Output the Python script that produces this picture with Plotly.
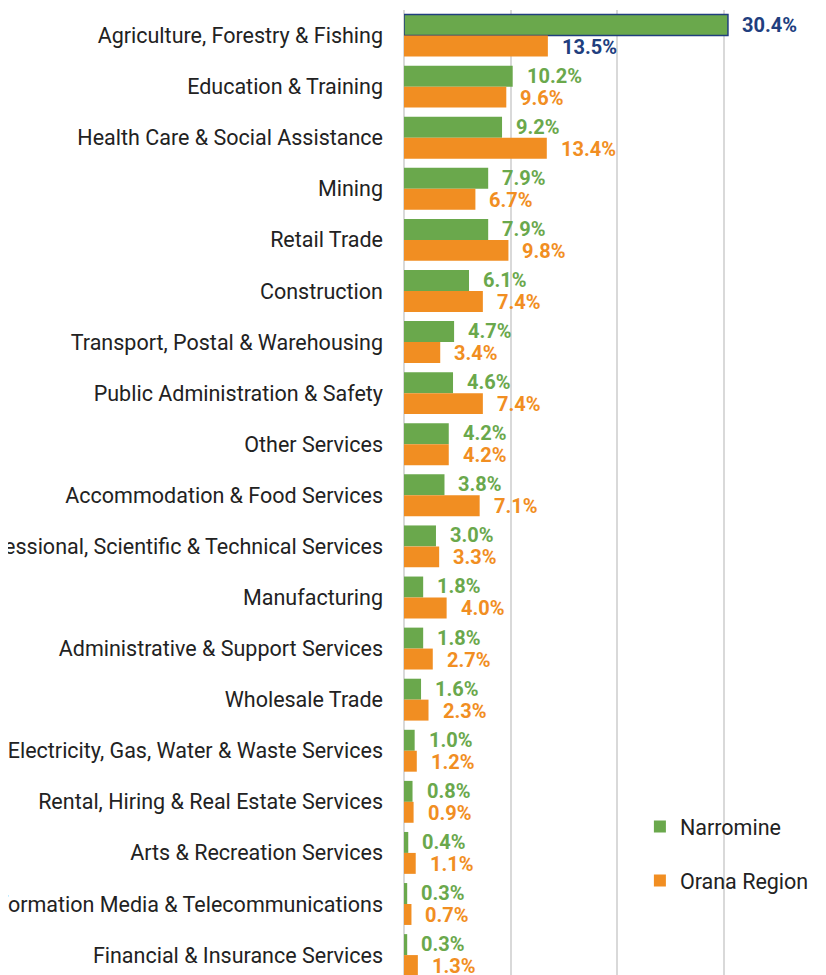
import plotly.graph_objects as go

categories = [
    "Agriculture, Forestry & Fishing",
    "Education & Training",
    "Health Care & Social Assistance",
    "Mining",
    "Retail Trade",
    "Construction",
    "Transport, Postal & Warehousing",
    "Public Administration & Safety",
    "Other Services",
    "Accommodation & Food Services",
    "Professional, Scientific & Technical Services",
    "Manufacturing",
    "Administrative & Support Services",
    "Wholesale Trade",
    "Electricity, Gas, Water & Waste Services",
    "Rental, Hiring & Real Estate Services",
    "Arts & Recreation Services",
    "Information Media & Telecommunications",
    "Financial & Insurance Services",
]
narromine = [30.4, 10.2, 9.2, 7.9, 7.9, 6.1, 4.7, 4.6, 4.2, 3.8, 3.0, 1.8, 1.8, 1.6, 1.0, 0.8, 0.4, 0.3, 0.3]
orana = [13.5, 9.6, 13.4, 6.7, 9.8, 7.4, 3.4, 7.4, 4.2, 7.1, 3.3, 4.0, 2.7, 2.3, 1.2, 0.9, 1.1, 0.7, 1.3]
series_names = ["Narromine", "Orana Region"]

GREEN = "#6AA84C"
ORANGE = "#F18E22"
NAVY = "#203E7E"
FONT = "Roboto"

fig = go.Figure()
fig.add_trace(go.Bar(
    y=categories, x=narromine, orientation="h", name=series_names[0],
    marker=dict(color=GREEN,
                line=dict(color=[NAVY] + [GREEN] * (len(categories) - 1),
                          width=[1.5] + [0] * (len(categories) - 1))),
    showlegend=False,
))
fig.add_trace(go.Bar(
    y=categories, x=orana, orientation="h", name=series_names[1],
    marker=dict(color=ORANGE, line=dict(width=0)),
    showlegend=False,
))
# legend-only entries
for name, col, grp in [(series_names[0], GREEN, "a"), (series_names[1], ORANGE, "b")]:
    fig.add_trace(go.Scatter(
        x=[None], y=[None], mode="markers", name=name, legendgroup=grp,
        marker=dict(symbol="square", size=12, color=col, line=dict(width=0)),
        showlegend=True,
    ))

annotations = []
for i, (c, v1, v2) in enumerate(zip(categories, narromine, orana)):
    col1 = NAVY if i == 0 else GREEN
    col2 = NAVY if i == 0 else ORANGE
    annotations.append(dict(x=v1, y=c, text=f"<b>{v1:.1f}%</b>", showarrow=False,
                            xanchor="left", yanchor="middle", xshift=12, yshift=11,
                            font=dict(family=FONT, size=20, color=col1)))
    annotations.append(dict(x=v2, y=c, text=f"<b>{v2:.1f}%</b>", showarrow=False,
                            xanchor="left", yanchor="middle", xshift=12, yshift=-11,
                            font=dict(family=FONT, size=20, color=col2)))

fig.update_layout(
    width=818, height=967,
    margin=dict(l=396, r=0, t=2, b=0),
    paper_bgcolor="white", plot_bgcolor="white",
    barmode="group", bargap=0.18, bargroupgap=0,
    font=dict(family=FONT, size=21.5, color="#222222"),
    annotations=annotations,
    showlegend=True,
    legend=dict(x=0.559, y=0.175, xanchor="left", yanchor="top",
                font=dict(family=FONT, size=21.5, color="#222222"),
                tracegroupgap=23, bgcolor="rgba(0,0,0,0)"),
    xaxis=dict(range=[0, 39.6], showticklabels=False, showgrid=True,
               gridcolor="#D9D9D9", gridwidth=1.5, zeroline=True,
               zerolinecolor="#D9D9D9", zerolinewidth=1.5, dtick=10, ticks=""),
    yaxis=dict(categoryorder="array", categoryarray=categories,
               range=[18.39, -0.5], automargin=False, showgrid=False,
               ticks="", ticklabelstandoff=20,
               tickfont=dict(family=FONT, size=21.5, color="#222222")),
)

fig.write_html("out.html")
